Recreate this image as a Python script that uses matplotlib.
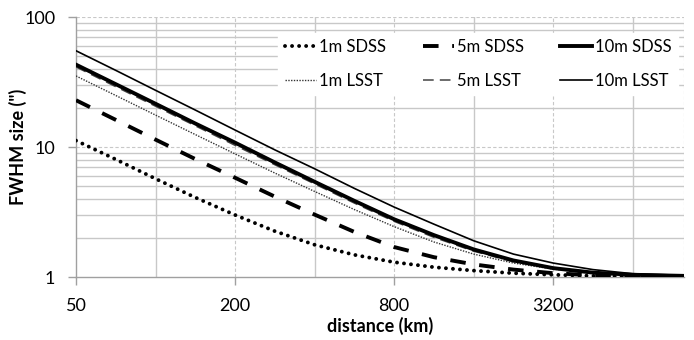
import numpy as np
import matplotlib
matplotlib.use("Agg")
import matplotlib.pyplot as plt

plt.rcParams['font.family'] = ['Lato', 'DejaVu Sans']

# distance (km)
distance = [50, 71, 100, 141, 200, 283, 400, 566, 800, 1131, 1600, 2263, 3200, 4525, 6400, 10000]

# FWHM size (arcsec)
sdss_1m = [11.2, 8.0, 5.7, 4.1, 3.0, 2.25, 1.77, 1.48, 1.3, 1.19, 1.12, 1.07, 1.04, 1.02, 1.01, 1.0]
sdss_5m = [22.9, 16.1, 11.4, 8.1, 5.8, 4.15, 3.02, 2.22, 1.7, 1.42, 1.25, 1.14, 1.07, 1.03, 1.015, 1.005]
sdss_10m = [43, 30.3, 21.5, 15.2, 10.8, 7.6, 5.4, 3.85, 2.78, 2.1, 1.63, 1.34, 1.17, 1.08, 1.04, 1.02]
lsst_1m = [35.2, 24.8, 17.6, 12.5, 8.85, 6.3, 4.55, 3.3, 2.44, 1.86, 1.5, 1.28, 1.15, 1.07, 1.03, 1.015]
lsst_5m = [41.3, 29.0, 20.6, 14.6, 10.3, 7.3, 5.2, 3.7, 2.68, 2.02, 1.58, 1.31, 1.16, 1.075, 1.035, 1.02]
lsst_10m = [55, 38.7, 27.3, 19.3, 13.5, 9.5, 6.8, 4.8, 3.45, 2.55, 1.9, 1.5, 1.28, 1.14, 1.06, 1.03]

fig = plt.figure(figsize=(6.94, 3.40), dpi=100)
ax = fig.add_axes([76/694, 1 - 277/340, (684 - 76)/694, (277 - 17)/340])

ax.set_xscale('log', base=2)
ax.set_yscale('log')
ax.set_xlim(50, 10000)
ax.set_ylim(1, 100)

# grid: minor solid, major dashed
grid_col = '#c8c8c8'
for x in [100, 400, 1600, 6400]:
    ax.axvline(x, color=grid_col, lw=1.0, zorder=0)
for x in [200, 800, 3200, 10000]:
    ax.axvline(x, color=grid_col, lw=0.8, ls=(0, (3, 2)), zorder=0)
for y in list(range(2, 10)) + list(range(20, 100, 10)):
    ax.axhline(y, color=grid_col, lw=1.0, zorder=0)
for y in [10, 100]:
    ax.axhline(y, color=grid_col, lw=0.8, ls=(0, (3, 2)), zorder=0)

ax.plot(distance, sdss_1m, color='black', lw=2.8, ls=(0, (0.01, 1.8)),
        dash_capstyle='round', label='1m SDSS', zorder=3)
ax.plot(distance, lsst_1m, color='#333333', lw=1.0, ls=(0, (1, 1)), label='1m LSST', zorder=3)
ax.plot(distance, sdss_5m, color='black', lw=2.8, ls=(0, (4, 3.5)), label='5m SDSS', zorder=3)
ax.plot(distance, lsst_5m, color='#444444', lw=1.1, ls=(0, (7, 4)), label='5m LSST', zorder=3)
ax.plot(distance, sdss_10m, color='black', lw=2.8, label='10m SDSS', zorder=3)
ax.plot(distance, lsst_10m, color='black', lw=1.2, label='10m LSST', zorder=3)

for s in ['top', 'right']:
    ax.spines[s].set_visible(False)
for s in ['left', 'bottom']:
    ax.spines[s].set_color('#a0a0a0')
    ax.spines[s].set_linewidth(1.0)

ax.set_xticks([50, 200, 800, 3200])
ax.set_xticklabels(['50', '200', '800', '3200'])
ax.xaxis.set_minor_locator(matplotlib.ticker.NullLocator())
ax.set_yticks([1, 10, 100])
ax.set_yticklabels(['1', '10', '100'])
ax.yaxis.set_minor_locator(matplotlib.ticker.NullLocator())
ax.tick_params(axis='both', which='major', length=6, width=1.0, color='#a0a0a0',
               labelsize=13, pad=9)

ax.set_xlabel('distance (km)', fontsize=13, fontweight='bold', labelpad=2)
ax.set_ylabel('FWHM size (")', fontsize=13, fontweight='bold')
ax.yaxis.set_label_coords(-0.08, 0.5)

leg = ax.legend(loc='upper right', ncol=3, fontsize=12, frameon=True,
                handlelength=1.9, handletextpad=0.15, columnspacing=2.2,
                borderaxespad=0.0, labelspacing=1.05, bbox_to_anchor=(0.99, 0.94))
leg.get_frame().set_facecolor('white')
leg.get_frame().set_edgecolor('white')
leg.get_frame().set_alpha(1.0)
leg.set_zorder(5)

fig.savefig('out.png', dpi=100)
